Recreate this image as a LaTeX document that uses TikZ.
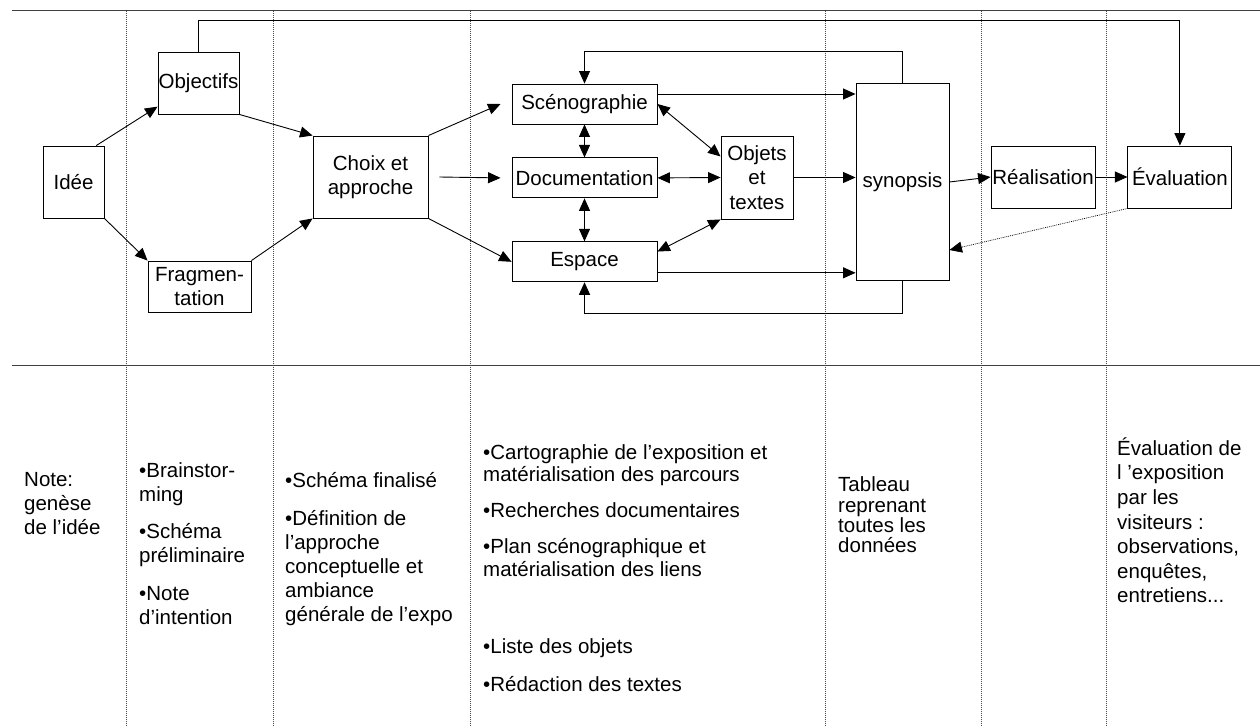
\documentclass[tikz,border=0pt]{standalone}
\usepackage{fontspec}
\setmainfont{Liberation Sans}
\usepackage{tikz}
\usetikzlibrary{positioning,arrows.meta}

\begin{document}
\begin{tikzpicture}[
x=1pt,y=-1pt,
node distance=33pt and 32pt,
box/.style={draw,line width=0.9pt,fill=white,inner sep=0pt,align=center,font=\fontsize{20.5}{24.5}\selectfont},
arrow/.style={-{Triangle[length=12.5pt,width=11pt]},line width=0.9pt},
twoway/.style={{Triangle[length=12.5pt,width=11pt]}-{Triangle[length=12.5pt,width=11pt]},line width=0.9pt},
sep/.style={line width=1pt,black!75},
lane/.style={line width=0.8pt,black!70,dash pattern=on 1pt off 1pt},
note/.style={anchor=north west,inner sep=0pt,align=left}
]
\useasboundingbox (0,0) rectangle (1260,726);
\draw[sep] (12,10.7)--(1260,10.7);
\draw[sep] (12,365)--(1260,365);
\foreach \x in {126,273,470,825,981,1106}
  \draw[lane] (\x,10.7)--(\x,726);

\node[box,minimum width=61pt,minimum height=72pt] (idee) at (73.5,182) {Idée};
\node[box,minimum width=81pt,minimum height=62pt] (objectifs) at (198.5,83) {Objectifs};
\node[box,minimum width=103pt,minimum height=51pt] (fragm) at (199.5,286.5) {Fragmen-\\tation};
\node[box,minimum width=115pt,minimum height=82pt] (choix) at (370.5,177) {Choix et\\approche};
\node[box,minimum width=145pt,minimum height=40pt] (sceno) at (584.5,104) {Scénographie};
\node[box,minimum width=145pt,minimum height=40pt,below=of sceno] (docu) {Documentation};
\node[box,minimum width=145pt,minimum height=40pt,below=43pt of docu] (espace) {Espace};
\node[box,minimum width=72pt,minimum height=83pt] (objets) at (757,177.5) {Objets\\et\\textes};
\node[box,minimum width=93pt,minimum height=197.5pt] (synopsis) at (902.5,182) {synopsis};
\node[box,minimum width=104pt,minimum height=62pt] (realis) at (1043,177) {Réalisation};
\node[box,minimum width=104pt,minimum height=62pt,right=of realis] (evalu) {Évaluation};

\draw[arrow] (idee.58)--(objectifs.210);
\draw[arrow] (idee.south east)--(fragm.north west);
\draw[arrow] (objectifs.south east)--(choix.north west);
\draw[arrow] (fragm.north east)--(choix.south west);
\draw[arrow] (choix.north east)--([xshift=-11pt]sceno.west);
\draw[arrow] ([xshift=11pt]choix.east)--([xshift=-11pt]docu.west);
\draw[arrow] (choix.south east)--(espace.west);
\draw[twoway] (sceno)--(docu);
\draw[twoway] (docu)--(espace);
\draw[twoway] (sceno.east)--(objets.150);
\draw[twoway] (docu.east)--(objets.west);
\draw[twoway] (espace.8)--(objets.south west);
\coordinate (scenoout) at ([yshift=10pt]sceno.east);
\coordinate (espaceout) at ([yshift=-11pt]espace.east);
\draw[arrow] (scenoout)--(scenoout -| synopsis.west);
\draw[arrow] (objets.east)--(objets.east -| synopsis.west);
\draw[arrow] (espaceout)--(espaceout -| synopsis.west);
\draw[arrow] (synopsis.east)--(realis.west);
\draw[arrow] (realis)--(evalu);
\draw[arrow,densely dotted,line width=0.7pt] (evalu.south west)--([yshift=-68pt]synopsis.east);
\draw[arrow] (synopsis.north)--++(0,-31) -| (sceno.north);
\draw[arrow] (synopsis.south)--++(0,32) -| (espace.south);
\draw[arrow] (objectifs.north)--++(0,-31) -| (evalu.north);

\node[note,font=\fontsize{20.5}{24}\selectfont] (genese) at (24,467) {\rule{0pt}{19pt}Note:\\genèse\\de l’idée};
\node[note,font=\fontsize{20.5}{24}\selectfont] (brain) at (139,458) {\rule{0pt}{19pt}•Brainstor-\\ming\\[13.5pt]•Schéma\\préliminaire\\[13.5pt]•Note\\d’intention};
\node[note,font=\fontsize{20.5}{24}\selectfont] (finalise) at (285,468) {\rule{0pt}{19pt}•Schéma finalisé\\[14pt]•Définition de\\l’approche\\conceptuelle et\\ambiance\\générale de l’expo};
\node[note,font=\fontsize{20.5}{22.5}\selectfont] (carto) at (483,440) {\rule{0pt}{19pt}•Cartographie de l’exposition et\\matérialisation des parcours\\[13.5pt]•Recherches documentaires\\[13.5pt]•Plan scénographique et\\matérialisation des liens\\[54.5pt]•Liste des objets\\[15.5pt]•Rédaction des textes};
\node[note,font=\fontsize{20.5}{20.3}\selectfont] (tableau) at (838,472.7) {\rule{0pt}{19pt}Tableau\\reprenant\\toutes les\\données};
\node[note,font=\fontsize{20.5}{24.6}\selectfont] (visiteurs) at (1117,436) {\rule{0pt}{19pt}Évaluation de\\l ’exposition\\par les\\visiteurs :\\observations,\\enquêtes,\\entretiens...};
\end{tikzpicture}
\end{document}
